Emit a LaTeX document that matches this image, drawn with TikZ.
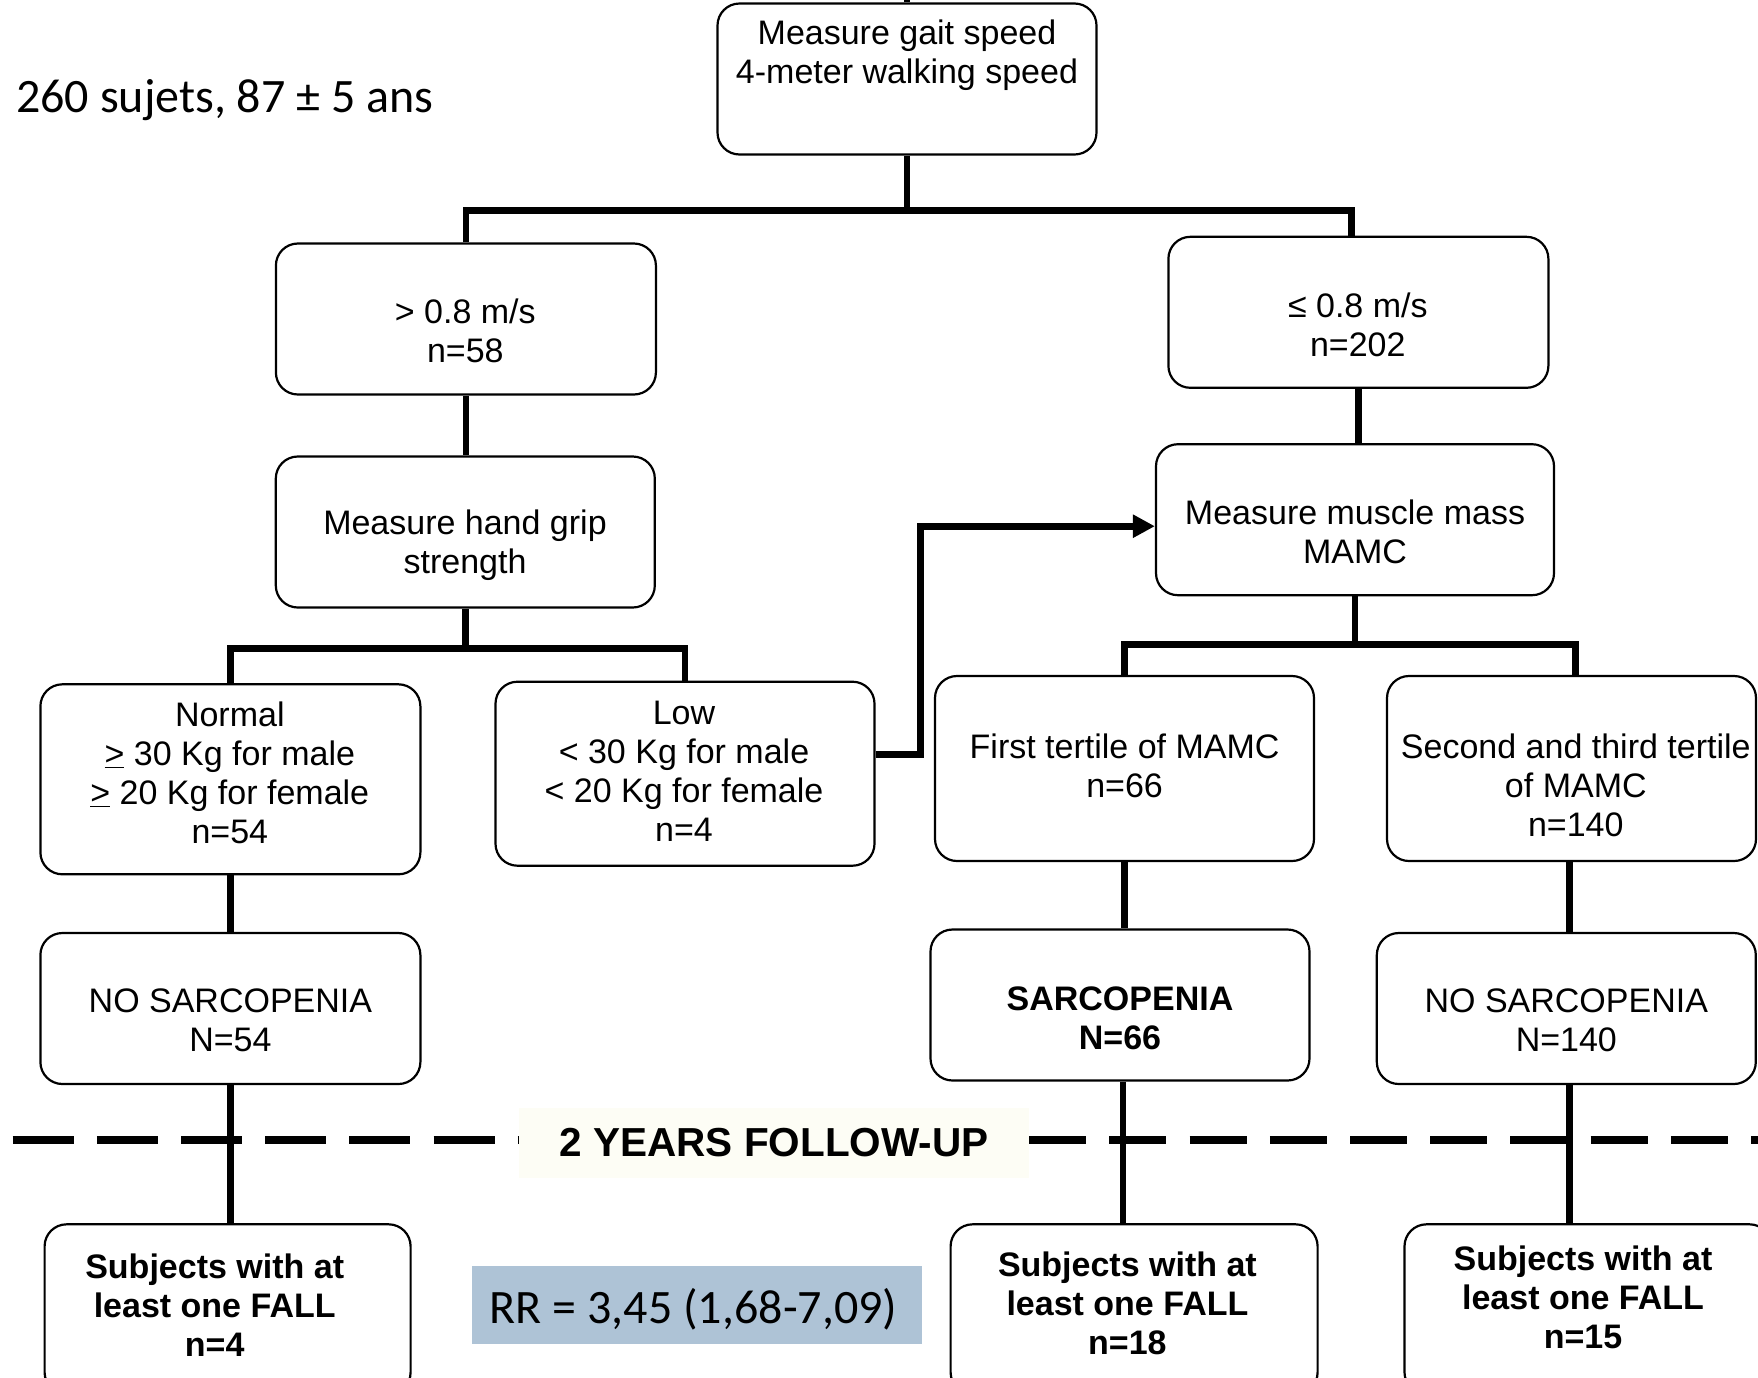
\documentclass[tikz,border=0pt]{standalone}
\usepackage{fontspec}
\setmainfont{Liberation Sans}
\newfontfamily\calib{Carlito}
\usetikzlibrary{arrows.meta}
\definecolor{rrblue}{RGB}{174,195,214}
\definecolor{cream}{RGB}{253,253,245}
\begin{document}
\begin{tikzpicture}[x=1pt,y=-1pt,
  box/.style={draw, line width=2.2pt, rounded corners=22pt, inner sep=0pt},
  txt/.style={align=center, font=\fontsize{34}{39}\selectfont, inner sep=0pt},
  btxt/.style={align=center, font=\fontsize{34}{39}\selectfont\bfseries, inner sep=0pt},
  conn/.style={line width=6.8pt},
  cal/.style={font=\calib\fontsize{48}{56}\selectfont, inner sep=0pt}]
\useasboundingbox (0,0) rectangle (1758,1377);
\clip (0,0) rectangle (1758,1377);

% boxes
\node[box, minimum width=379pt, minimum height=151pt] (top) at (907,79) {};
\node[box, minimum width=380pt, minimum height=151pt] (b2) at (465.9,319) {};
\node[box, minimum width=380pt, minimum height=151pt] (b3) at (1358.4,312.3) {};
\node[box, minimum width=379pt, minimum height=151pt] (b4) at (465.3,532) {};
\node[box, minimum width=398pt, minimum height=151pt] (b5) at (1355,519.7) {};
\node[box, minimum width=380pt, minimum height=190pt] (normal) at (230.4,779.3) {};
\node[box, minimum width=379pt, minimum height=184pt] (low) at (685,773.7) {};
\node[box, minimum width=379pt, minimum height=185pt] (first) at (1124.5,768.5) {};
\node[box, minimum width=369pt, minimum height=185pt] (second) at (1571.5,768.5) {};
\node[box, minimum width=380pt, minimum height=151pt] (nos54) at (230.4,1008.5) {};
\node[box, minimum width=379pt, minimum height=151pt] (sarc) at (1120,1005) {};
\node[box, minimum width=379pt, minimum height=151pt] (nos140) at (1566.3,1008.5) {};
\node[box, minimum width=366pt, minimum height=170pt] (s4) at (227.6,1309.3) {};
\node[box, minimum width=367pt, minimum height=170pt] (s18) at (1134.1,1309.3) {};
\node[box, minimum width=367pt, minimum height=170pt] (s15) at (1588,1309.3) {};

% texts
\node[txt] (top-t) at (907,55.5) {Measure gait speed\\4-meter walking speed};
\node[txt] (b2-t) at (465.3,331) {> 0.8 m/s\\n=58};
\node[txt] (b3-t) at (1357.8,324.5) {≤ 0.8 m/s\\n=202};
\node[txt] (b4-t) at (465,545) {Measure hand grip\\strength};
\node[txt] (b5-t) at (1355,532) {Measure muscle mass\\MAMC};
\node[txt] (normal-t) at (229.8,773) {Normal\\\underline{>} 30 Kg for male\\\underline{>} 20 Kg for female\\n=54};
\node[txt] (low-t) at (684,771) {Low\\< 30 Kg for male\\< 20 Kg for female\\n=4};
\node[txt] (first-t) at (1124.6,766) {First tertile of MAMC\\n=66};
\node[txt] (second-t) at (1575.8,785) {Second and third tertile\\of MAMC\\n=140};
\node[txt] (nos54-t) at (230.4,1020) {NO SARCOPENIA\\N=54};
\node[btxt] (sarc-t) at (1120,1018) {SARCOPENIA\\N=66};
\node[txt] (nos140-t) at (1566.3,1020.5) {NO SARCOPENIA\\N=140};
\node[btxt] (s4-t) at (214.7,1305) {Subjects with at\\least one FALL\\n=4};
\node[btxt] (s18-t) at (1127.4,1303) {Subjects with at\\least one FALL\\n=18};
\node[btxt] (s15-t) at (1583,1297) {Subjects with at\\least one FALL\\n=15};

% side texts
\node[cal, anchor=base west] (info) at (16,112) {260 sujets, 87 ± 5 ans};
\node[fill=rrblue, minimum width=450pt, minimum height=78pt, inner sep=0pt] (rr) at (697,1305) {};
\node[cal, anchor=base] (rr-t) at (693.5,1323.3) {RR = 3,45 (1,68-7,09)};

% follow-up line
\node[fill=cream, minimum width=510pt, minimum height=70pt, inner sep=0pt,
      font=\fontsize{40.5}{46}\selectfont\bfseries] (fu) at (774,1143) {2 YEARS FOLLOW-UP};
\coordinate (dl) at (12.6,1140);
\coordinate (dr) at (1758,1140);
\draw[line width=7.5pt, dash pattern=on 61pt off 23.2pt] (dl) -- (dl -| fu.west);
\draw[line width=7.5pt, dash pattern=on 57pt off 23.2pt] (dr -| fu.east) -- (dr);

% connectors
\coordinate (topin) at (907,0);
\draw[conn] (top.north) -- (topin);
\draw[conn] (top.south) -- ++(0,55.2) coordinate (j1);
\draw[conn] (b2.north) |- (j1) -| ([xshift=-7pt]b3.north);
\draw[conn] (b2.south) -- (b2.south |- b4.north);
\draw[conn] (b3.south) -- (b3.south |- b5.north);
\draw[conn] (b4.south) -- ++(0,39.5) coordinate (j2);
\draw[conn] (normal.north) |- (j2) -| (low.north);
\draw[conn] (b5.south) -- ++(0,48.4) coordinate (j3);
\draw[conn] (first.north) |- (j3) -| ([xshift=4pt]second.north);
\draw[conn,-{Triangle[length=22pt,width=22pt]}] ([yshift=19pt]low.east) -- ++(45,0) |- ([yshift=-6.5pt]b5.west);
\draw[conn] (normal.south) -- (normal.south |- nos54.north);
\draw[conn] (first.south) -- (first.south |- sarc.north);
\draw[conn] ([xshift=3pt]nos140.north |- second.south) -- ([xshift=3pt]nos140.north);
\draw[conn] (nos54.south) -- (nos54.south |- s4.north);
\draw[conn] ([xshift=3pt]sarc.south) -- ([xshift=3pt]sarc.south |- s18.north);
\draw[conn] ([xshift=3pt]nos140.south) -- ([xshift=3pt]nos140.south |- s15.north);
\end{tikzpicture}
\end{document}
